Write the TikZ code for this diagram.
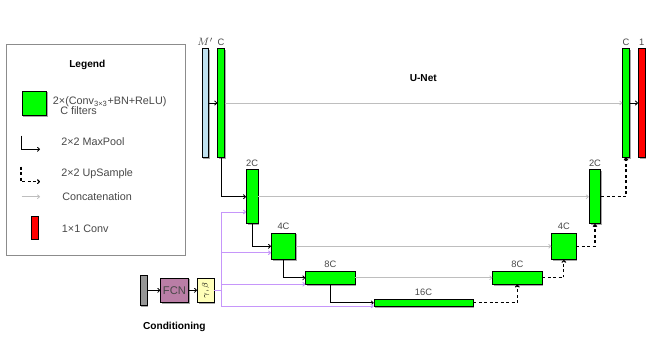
\documentclass[tikz,border=0pt]{standalone}
\usepackage{fontspec}
\setmainfont{Liberation Sans}
\usetikzlibrary{arrows.meta,shadows,calc}
\definecolor{unetgreen}{RGB}{0,255,0}
\definecolor{unetred}{RGB}{255,0,0}
\definecolor{mblue}{RGB}{192,226,240}
\definecolor{condgray}{RGB}{150,150,150}
\definecolor{fcnmauve}{RGB}{186,126,166}
\definecolor{gbyellow}{RGB}{255,255,185}
\definecolor{condpurple}{RGB}{198,150,250}
\definecolor{catgray}{RGB}{190,190,190}
\definecolor{txtgray}{RGB}{72,72,72}
\definecolor{legendgray}{RGB}{140,140,140}
\begin{document}
\begin{tikzpicture}[x=0.75pt,y=-0.75pt,
  font=\fontsize{8.1}{9}\selectfont,
  blk/.style={draw=black, line width=0.6pt, inner sep=0pt,
    drop shadow={shadow xshift=1pt, shadow yshift=-1pt, opacity=0.35, fill=black}},
  gblk/.style={blk, fill=unetgreen},
  lbl/.style={font=\fontsize{7}{8}\selectfont, text=txtgray, inner sep=0pt},
  thin/.style={minimum width=4.95pt, minimum height=81.45pt},
  pool/.style={-{To[length=2.2pt,width=3.6pt]}, line width=0.6pt},
  upsm/.style={-{To[length=2.2pt,width=3.6pt]}, line width=0.85pt, dash pattern=on 2.2pt off 1.9pt},
  cat/.style={-{To[length=2.2pt,width=3.4pt]}, draw=catgray, line width=0.55pt},
  cond/.style={-{To[length=2.2pt,width=3.4pt]}, draw=condpurple, line width=0.7pt},
  txt/.style={inner sep=0pt, anchor=west, text=txtgray},
  ttl/.style={font=\bfseries\fontsize{7.6}{9}\selectfont, inner sep=0pt}]

\useasboundingbox (0,0) rectangle (654,343);

% ---------------- Legend ----------------
\draw[draw=legendgray, line width=0.6pt, fill=white] (6,44) rectangle (185.3,255);
\node[ttl] (legtitle) at (87.3,65) {Legend};
\node[gblk, minimum width=18.15pt, minimum height=18.4pt] (legblk) at (34.2,103.3) {};
\node[txt] (legt1) at (52.7,101.7) {2×(Conv\textsubscript{3×3}+BN+ReLU)};
\node[txt] (legt2) at (60,110.7) {C filters};
\coordinate (mp1) at (21,135.7);
\coordinate (mp2) at (21,149.3);
\coordinate (mp3) at (40,149.3);
\draw[pool] (mp1) -- (mp2) -- (mp3);
\node[txt] (legt3) at (61,141.7) {2×2 MaxPool};
\coordinate (us1) at (21,166.7);
\coordinate (us2) at (21,181.7);
\coordinate (us3) at (40,181.7);
\draw[upsm] (us1) -- (us2) -- (us3);
\node[txt] (legt4) at (61,173.3) {2×2 UpSample};
\coordinate (ct1) at (21.7,196.7);
\coordinate (ct2) at (40,196.7);
\draw[cat] (ct1) -- (ct2);
\node[txt] (legt5) at (62,196.7) {Concatenation};
\node[blk, fill=unetred, minimum width=4.9pt, minimum height=16.9pt] (legred) at (34.7,227.7) {};
\node[txt] (legt6) at (61.7,228.3) {1×1 Conv};

% ---------------- U-Net ----------------
\node[ttl] (unet) at (423.3,78.3) {U-Net};

\node[blk, fill=mblue, thin, label={[lbl, font=\fontsize{8}{9}\selectfont, label distance=1.6pt]above:$M'$}] (mp) at (205.3,103) {};
\node[gblk, thin, label={[lbl, label distance=2pt]above:C}] (ce) at (221,103) {};
\node[gblk, minimum width=8.7pt, minimum height=40.4pt, label={[lbl, label distance=2.2pt]above:2C}] (e2) at (252.2,196.7) {};
\node[gblk, minimum width=18.15pt, minimum height=19.9pt, label={[lbl, label distance=2.4pt]above:4C}] (e4) at (283.5,246.3) {};
\node[gblk, minimum width=36.9pt, minimum height=9.7pt, label={[lbl, label distance=2.4pt]above:8C}] (e8) at (330.3,277.8) {};
\node[gblk, minimum width=74.1pt, minimum height=5.2pt, label={[lbl, label distance=2.6pt]above:16C}] (b16) at (423.5,302.8) {};
\node[gblk, minimum width=36.9pt, minimum height=9.7pt, label={[lbl, label distance=2.4pt]above:8C}] (d8) at (517.3,277.8) {};
\node[gblk, minimum width=18.15pt, minimum height=19.9pt, label={[lbl, label distance=2.4pt]above:4C}] (d4) at (563.8,246.3) {};
\node[gblk, minimum width=8.7pt, minimum height=40.4pt, label={[lbl, label distance=2.2pt]above:2C}] (d2) at (595,196.7) {};
\node[gblk, thin, label={[lbl, label distance=2pt]above:C}] (cd) at (626,103) {};
\node[blk, fill=unetred, thin, label={[lbl, label distance=2pt]above:1}] (out) at (641.7,103) {};

% concatenations
\draw[cat] (ce.east) -- (cd.west);
\draw[cat] (e2.east) -- (d2.west);
\draw[cat] (e4.east) -- (d4.west);
\draw[cat] (e8.east) -- (d8.west);

% 1x1 arrows
\draw[pool] (mp.east) -- (ce.west);
\draw[pool] (cd.east) -- (out.west);

% max pooling
\draw[pool] (ce.south) |- (e2.west);
\draw[pool] (e2.south) |- (e4.west);
\draw[pool] (e4.south) |- (e8.west);
\draw[pool] (e8.south) |- (b16.west);

% upsampling
\draw[upsm] (b16.east) -| (d8.south);
\draw[upsm] (d8.east) -| (d4.south);
\draw[upsm] (d4.east) -| (d2.south);
\draw[upsm] (d2.east) -| (cd.south);

% ---------------- Conditioning ----------------
\node[blk, fill=condgray, minimum width=5.1pt, minimum height=22.9pt] (cin) at (143.5,290.3) {};
\node[blk, fill=fcnmauve, minimum width=20.7pt, minimum height=18.4pt, text=txtgray, font=\fontsize{8.4}{9}\selectfont] (fcn) at (174.5,290.3) {FCN};
\node[blk, fill=gbyellow, minimum width=12.4pt, minimum height=18.4pt] (gb) at (205.7,290.3) {\rotatebox{90}{\fontsize{6}{7}\selectfont$\gamma,\beta$}};
\node[ttl] (condtitle) at (174.3,327) {Conditioning};
\draw[pool] (cin.east) -- (fcn.west);
\draw[pool] (fcn.east) -- (gb.west);

\coordinate (cj) at (221.3,290.3);
\draw[draw=condpurple, line width=0.7pt] (gb.east) -- (cj);
\draw[cond] (cj) |- ($(e2.west)+(0,15.3)$);
\draw[cond] (cj) |- ($(e4.west)+(0,6.4)$);
\draw[cond] (cj) |- ($(e8.west)+(0,6.5)$);
\draw[cond] (cj) |- ($(b16.west)+(0,3.2)$);
\end{tikzpicture}
\end{document}
